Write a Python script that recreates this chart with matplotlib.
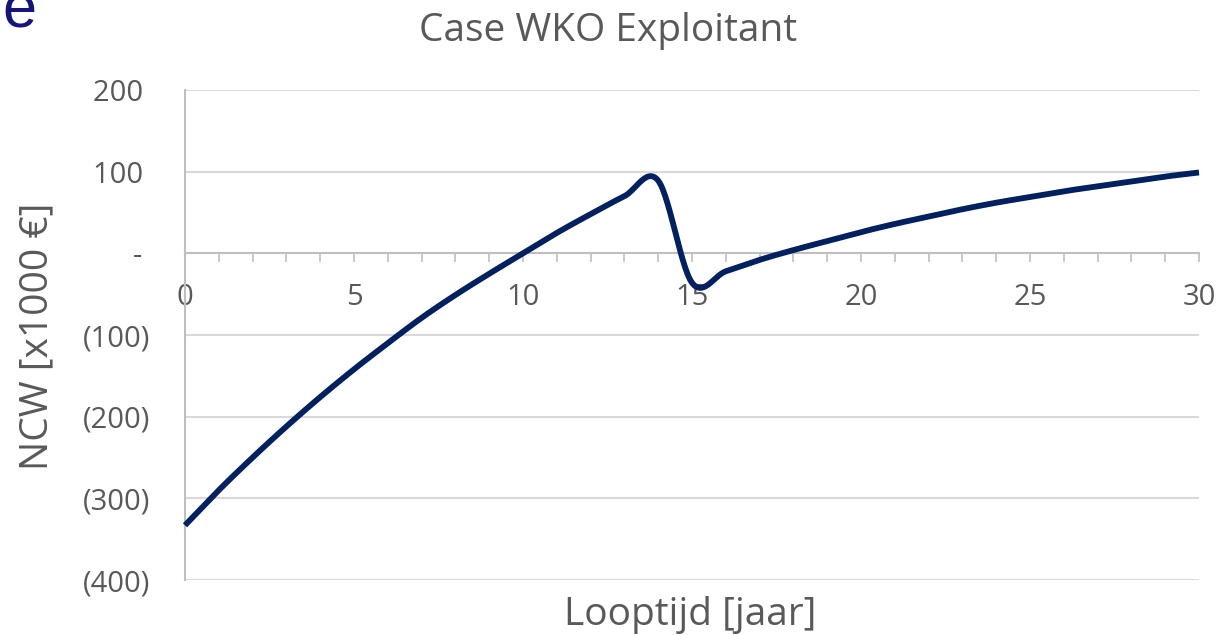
import numpy as np
import matplotlib
matplotlib.use("Agg")
import matplotlib.pyplot as plt

# values (NCW x1000 EUR per year)
years = list(range(0, 31))
ncw = [-333, -290, -250, -212, -176, -142, -110, -79, -51, -25,
       0, 25, 48, 70, 89, -36, -22, -8, 4, 15,
       26, 36, 45, 54, 62, 69, 76, 82, 88, 94, 99]
y_ticks = [200, 100, 0, -100, -200, -300, -400]
y_tick_labels = ["200 ", "100 ", "- ", "(100)", "(200)", "(300)", "(400)"]
x_tick_labels = [0, 5, 10, 15, 20, 25, 30]

TEXT = "#595959"
LINE = "#002060"
GRID = "#d9d9d9"
AXIS = "#bfbfbf"


def smooth_line(xs, ys, n=30):
    """Excel style smoothed line (cubic bezier through the points)."""
    px = np.asarray(xs, float)
    py = np.asarray(ys, float)
    out_x, out_y = [], []
    t = np.linspace(0, 1, n)
    for i in range(len(px) - 1):
        i0 = max(i - 1, 0)
        i3 = min(i + 2, len(px) - 1)
        c1x = px[i] + (px[i + 1] - px[i0]) / 6
        c1y = py[i] + (py[i + 1] - py[i0]) / 6
        c2x = px[i + 1] - (px[i3] - px[i]) / 6
        c2y = py[i + 1] - (py[i3] - py[i]) / 6
        bx = ((1 - t) ** 3 * px[i] + 3 * (1 - t) ** 2 * t * c1x
              + 3 * (1 - t) * t ** 2 * c2x + t ** 3 * px[i + 1])
        by = ((1 - t) ** 3 * py[i] + 3 * (1 - t) ** 2 * t * c1y
              + 3 * (1 - t) * t ** 2 * c2y + t ** 3 * py[i + 1])
        out_x.extend(bx)
        out_y.extend(by)
    return out_x, out_y


plt.rcParams['font.family'] = ['Open Sans', 'DejaVu Sans']

fig = plt.figure(figsize=(12.24, 6.35), dpi=100)
ax = fig.add_axes([185 / 1224, 1 - 580 / 635, 1014 / 1224, 490 / 635])

ax.set_xlim(0, 30)
ax.set_ylim(-400, 200)

# horizontal gridlines
for v in y_ticks:
    if v != 0:
        ax.axhline(v, color=GRID, lw=1.5, zorder=1)

sx, sy = smooth_line(years, ncw)
ax.plot(sx, sy, color=LINE, lw=4.2, solid_capstyle='butt', zorder=3, clip_on=False)

for s in ['top', 'right']:
    ax.spines[s].set_visible(False)
ax.spines['left'].set_color(AXIS)
ax.spines['left'].set_linewidth(1.5)
ax.spines['bottom'].set_position(('data', 0))
ax.spines['bottom'].set_color(AXIS)
ax.spines['bottom'].set_linewidth(1.5)

ax.set_xticks(years)
ax.set_xticklabels([str(x) if x in x_tick_labels else "" for x in years])
ax.tick_params(axis='x', direction='out', length=6.5, width=1.2, color=AXIS,
               labelsize=21, labelcolor=TEXT, pad=15)
ax.set_yticks(y_ticks)
ax.set_yticklabels(y_tick_labels)
ax.tick_params(axis='y', length=0, labelsize=21, labelcolor=TEXT, pad=25)

fig.text(608 / 1224, 1 - 31 / 635, "Case WKO Exploitant", ha='center', va='center',
         fontsize=28, color=TEXT)
fig.text(690 / 1224, 1 - 615 / 635, "Looptijd [jaar]", ha='center', va='center',
         fontsize=28, color=TEXT)
fig.text(37 / 1224, 1 - 336 / 635, "NCW [x1000 \u20ac]", ha='center', va='center',
         rotation=90, fontsize=28, color=TEXT)
# leftover of slide title cut off at the top-left
fig.text(38 / 1224, 1 - 27 / 635, "ne", ha='right', va='baseline',
         fontsize=44, color='#14147a', family='Liberation Sans')

fig.savefig("out.png", dpi=100)
